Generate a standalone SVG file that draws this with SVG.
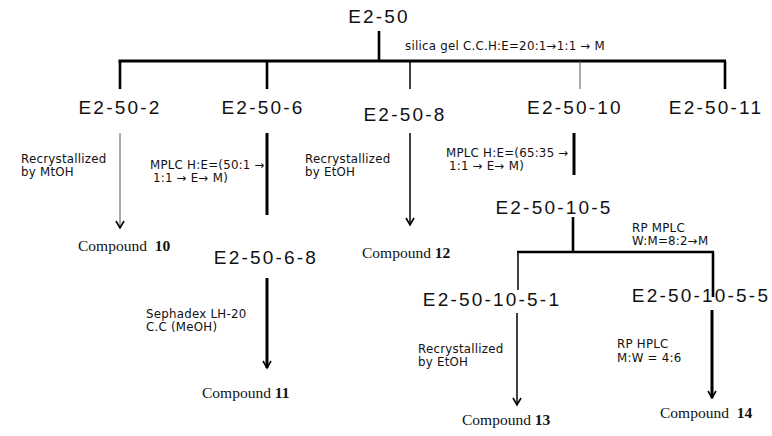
<svg xmlns="http://www.w3.org/2000/svg" width="772" height="436" viewBox="0 0 772 436">
<defs>
<marker id="ah" markerUnits="userSpaceOnUse" markerWidth="12" markerHeight="12" refX="10" refY="6" orient="auto" viewBox="0 0 12 12">
<polyline points="3,2 10,6 3,10" fill="none" stroke="#000" stroke-width="1.6"/>
</marker>
</defs>
<style>
.n{font-family:"Liberation Sans",Arial,sans-serif;font-size:19px;letter-spacing:2.2px;fill:#111;text-anchor:middle}
.s{font-family:"DejaVu Sans","Liberation Sans",sans-serif;font-size:11.8px;letter-spacing:0.25px;fill:#111}
.c{font-family:"Liberation Serif","Times New Roman",serif;font-size:15.5px;fill:#111}
.c tspan.b{font-weight:bold}
.k{stroke:#000;fill:none;stroke-linecap:butt}
.t1{stroke-width:1;stroke:#555}
.t2{stroke-width:1.5}
.t3{stroke-width:2.6}
.t4{stroke-width:3}
</style>
<rect width="772" height="436" fill="#fff"/>
<g id="connectors">
<line class="k t3" x1="379" y1="31" x2="379" y2="61"/>
<line class="k t4" x1="118.5" y1="61" x2="726" y2="61"/>
<line class="k t3" x1="120" y1="61" x2="120" y2="89"/>
<line class="k t3" x1="267" y1="61" x2="267" y2="89"/>
<line class="k t2" x1="410" y1="61" x2="410" y2="89"/>
<line class="k t1" x1="580" y1="61" x2="580" y2="89"/>
<line class="k t3" x1="725" y1="61" x2="725" y2="89"/>
<line class="k t1" x1="120" y1="133" x2="120" y2="228" marker-end="url(#ah)"/>
<line class="k t4" x1="267" y1="133" x2="267" y2="215"/>
<line class="k t2" x1="410" y1="133" x2="410" y2="225" marker-end="url(#ah)"/>
<line class="k t4" x1="574" y1="133" x2="574" y2="175"/>
<line class="k t3" x1="573" y1="217" x2="573" y2="252"/>
<line class="k t3" x1="517" y1="252" x2="714" y2="252"/>
<line class="k t2" x1="518" y1="252" x2="518" y2="290"/>
<line class="k t3" x1="713" y1="252" x2="713" y2="297"/>
<line class="k t4" x1="267" y1="278" x2="267" y2="368" marker-end="url(#ah)"/>
<line class="k t2" x1="517" y1="313" x2="517" y2="405" marker-end="url(#ah)"/>
<line class="k t4" x1="712" y1="310" x2="712" y2="398" marker-end="url(#ah)"/>
</g>
<g id="n-e2-50"><text class="n" x="379" y="23">E2-50</text></g>
<g id="lbl-silica"><text class="s" x="405" y="50">silica gel C.C.H:E=20:1→1:1 → M</text></g>
<g id="n-e2-50-2"><text class="n" x="120" y="114">E2-50-2</text></g>
<g id="n-e2-50-6"><text class="n" x="263" y="114">E2-50-6</text></g>
<g id="n-e2-50-8"><text class="n" x="405" y="121">E2-50-8</text></g>
<g id="n-e2-50-10"><text class="n" x="575" y="114">E2-50-10</text></g>
<g id="n-e2-50-11"><text class="n" x="716" y="114">E2-50-11</text></g>
<g id="lbl-recryst-mtoh"><text class="s" x="21" y="163">Recrystallized</text><text class="s" x="21" y="176">by MtOH</text></g>
<g id="lbl-mplc-50"><text class="s" x="150" y="169">MPLC H:E=(50:1 →</text><text class="s" x="153" y="182">1:1 → E→ M)</text></g>
<g id="lbl-recryst-etoh1"><text class="s" x="305" y="163">Recrystallized</text><text class="s" x="305" y="176">by EtOH</text></g>
<g id="lbl-mplc-65"><text class="s" x="446" y="157">MPLC H:E=(65:35 →</text><text class="s" x="449" y="170">1:1 → E→ M)</text></g>
<g id="n-cpd10"><text class="c" x="78" y="251">Compound <tspan class="b" dx="4">10</tspan></text></g>
<g id="n-cpd12"><text class="c" x="362" y="258">Compound <tspan class="b">12</tspan></text></g>
<g id="n-e2-50-6-8"><text class="n" x="266" y="264">E2-50-6-8</text></g>
<g id="n-e2-50-10-5"><text class="n" x="554" y="214">E2-50-10-5</text></g>
<g id="lbl-rpmplc"><text class="s" x="632" y="232">RP MPLC</text><text class="s" x="632" y="245">W:M=8:2→M</text></g>
<g id="n-e2-50-10-5-1"><text class="n" x="492" y="306">E2-50-10-5-1</text></g>
<g id="n-e2-50-10-5-5"><text class="n" x="701" y="302">E2-50-10-5-5</text></g>
<g id="lbl-sephadex"><text class="s" x="146" y="318">Sephadex LH-20</text><text class="s" x="146" y="331">C.C (MeOH)</text></g>
<g id="n-cpd11"><text class="c" x="202" y="398">Compound <tspan class="b">11</tspan></text></g>
<g id="lbl-recryst-etoh2"><text class="s" x="418" y="353">Recrystallized</text><text class="s" x="418" y="366">by EtOH</text></g>
<g id="lbl-rphplc"><text class="s" x="617" y="348">RP HPLC</text><text class="s" x="617" y="362">M:W = 4:6</text></g>
<g id="n-cpd13"><text class="c" x="462" y="425">Compound <tspan class="b">13</tspan></text></g>
<g id="n-cpd14"><text class="c" x="660" y="418">Compound <tspan class="b" dx="4">14</tspan></text></g>
</svg>
